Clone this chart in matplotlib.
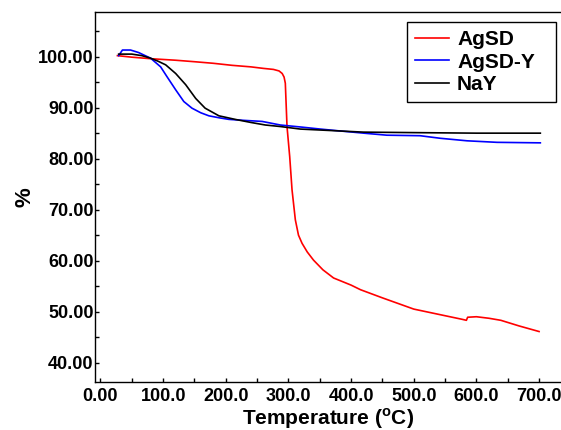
import matplotlib
matplotlib.use("Agg")
import matplotlib.pyplot as plt
from matplotlib.ticker import MultipleLocator


# ----------------------------
# Data
# ----------------------------
agsd_temp = [27, 50, 80, 120, 151, 180, 210, 240, 260, 276, 285, 290, 293, 295,
             297.7, 302, 305.7, 311, 316, 321.7, 330, 340, 355, 372, 400, 415,
             450, 500, 550, 577, 584, 586, 600, 620, 639, 668, 700]
agsd_mass = [100.2, 99.9, 99.6, 99.3, 99.0, 98.7, 98.3, 98.0, 97.7, 97.5, 97.2,
             96.7, 96.0, 94.8, 86.3, 80.4, 73.9, 68.0, 65.0, 63.4, 61.7, 60.1,
             58.2, 56.6, 55.2, 54.3, 52.7, 50.5, 49.2, 48.5, 48.3, 48.9, 49.0,
             48.7, 48.3, 47.2, 46.1]

agsdy_temp = [29, 35, 48, 61, 80, 96, 106, 120, 133, 146, 160, 173, 190, 205,
              230, 258, 287, 320, 351, 385, 420, 457, 510, 542, 585, 633, 702]
agsdy_mass = [100.2, 101.3, 101.3, 100.8, 99.7, 98.0, 96.1, 93.5, 91.2, 89.9,
              89.0, 88.4, 88.0, 87.7, 87.5, 87.3, 86.6, 86.2, 85.8, 85.4, 85.0,
              84.6, 84.5, 84.0, 83.5, 83.2, 83.1]

nay_temp = [29, 50, 66, 80, 92, 104, 120, 136, 152, 167, 189, 215, 240, 263,
            287, 319, 370, 420, 505, 600, 702]
nay_mass = [100.5, 100.5, 100.2, 99.7, 99.1, 98.4, 96.7, 94.5, 91.8, 89.9, 88.4,
            87.7, 87.1, 86.6, 86.3, 85.8, 85.5, 85.2, 85.1, 85.0, 85.0]

series_names = ["AgSD", "AgSD-Y", "NaY"]
series_colors = ["#ff0000", "#0000ff", "#000000"]

x_tick_values = [0, 100, 200, 300, 400, 500, 600, 700]
x_tick_labels = ["0.00", "100.0", "200.0", "300.0", "400.0", "500.0", "600.0", "700.0"]
y_tick_values = [40, 50, 60, 70, 80, 90, 100]
y_tick_labels = ["40.00", "50.00", "60.00", "70.00", "80.00", "90.00", "100.00"]


# ----------------------------
# Figure
# ----------------------------
plt.rcParams["font.family"] = ["Liberation Sans", "DejaVu Sans"]
plt.rcParams["font.weight"] = "bold"

fig = plt.figure(figsize=(5.61, 4.30), dpi=100)
ax = fig.add_axes([0.1693, 0.1116, 0.8307, 0.8598])

curves = [(agsd_temp, agsd_mass), (agsdy_temp, agsdy_mass), (nay_temp, nay_mass)]
for (temps, masses), name, color in zip(curves, series_names, series_colors):
    ax.plot(temps, masses, color=color, linewidth=1.2, label=name)

ax.set_xlim(-8.8, 735)
ax.set_ylim(36.2, 108.7)

ax.set_xticks(x_tick_values)
ax.set_xticklabels(x_tick_labels)
ax.set_yticks(y_tick_values)
ax.set_yticklabels(y_tick_labels)
ax.xaxis.set_minor_locator(MultipleLocator(50))
ax.yaxis.set_minor_locator(MultipleLocator(5))

ax.tick_params(which="both", direction="in", length=3, width=1)
ax.tick_params(axis="x", which="major", labelsize=13, pad=4)
ax.tick_params(axis="y", which="major", labelsize=13, pad=1)
ax.tick_params(top=False, right=False, which="both")

ax.spines["right"].set_visible(False)
for side in ["left", "bottom", "top"]:
    ax.spines[side].set_linewidth(1.0)

ax.set_xlabel(r"Temperature ($^{\mathregular{o}}$C)", fontsize=15,
              fontweight="bold", labelpad=1)
ax.set_ylabel("%", fontsize=16, fontweight="bold", labelpad=2)

# legend box spans x 407..556 px, top at 22 px in the reference
leg = ax.legend(loc="upper left", bbox_to_anchor=(407 / 561, 0.9495, 149 / 561, 0.0),
                bbox_transform=fig.transFigure, mode="expand", borderaxespad=0,
                fancybox=False, framealpha=1, edgecolor="black",
                prop={"size": 15, "weight": "bold"}, handlelength=1.6,
                handletextpad=0.4, labelspacing=0.17, borderpad=0.4)
leg.get_frame().set_linewidth(1.0)

fig.savefig("out.png", dpi=100)
